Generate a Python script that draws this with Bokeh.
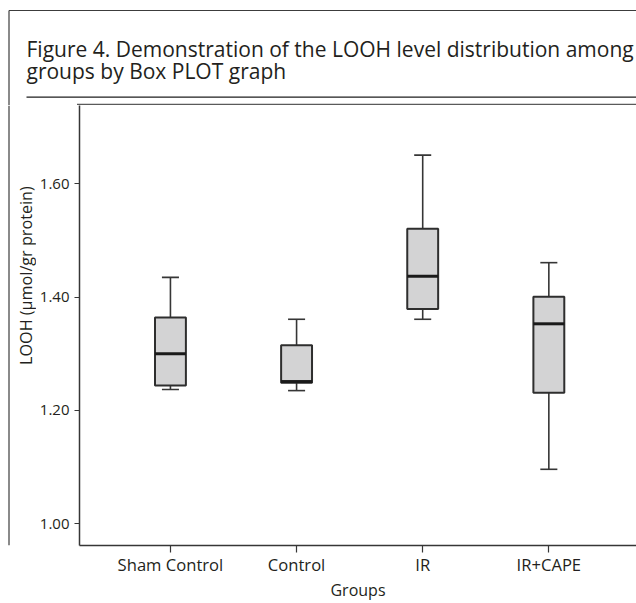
import numpy as np
from bokeh.plotting import figure
from bokeh.layouts import column, row
from bokeh.models import Range1d, FixedTicker, LinearAxis, PrintfTickFormatter
from bokeh.core.properties import value
from bokeh.embed import file_html
from bokeh.resources import INLINE

# ---- data ----
groups = ["Sham Control", "Control", "IR", "IR+CAPE"]
whisker_low = [1.237, 1.235, 1.361, 1.096]
q1 = [1.244, 1.249, 1.379, 1.231]
median = [1.300, 1.251, 1.437, 1.353]
q3 = [1.364, 1.315, 1.521, 1.401]
whisker_high = [1.435, 1.361, 1.651, 1.461]
y_ticks = [1.00, 1.20, 1.40, 1.60]

title_lines = ["Figure 4. Demonstration of the LOOH level distribution among",
               "groups by Box PLOT graph"]
x_title = "Groups"
y_title = "LOOH (µmol/gr protein)"

# ---- layout constants (pixels) ----
W, H = 636, 603
HEAD_H = 105          # header band: title, rules
STRIP_W = 36          # left band: outer frame line + y title
PLOT_W = W - STRIP_W
PLOT_H = H - HEAD_H
FONT = "Open Sans"
TXT = "#231f20"
AX = "#363636"


def blank(width, height, xr, yr):
    f = figure(width=width, height=height, output_backend="svg", toolbar_location=None,
               x_range=Range1d(*xr), y_range=Range1d(*yr),
               x_axis_location=None, y_axis_location=None,
               min_border=0, min_border_left=0, min_border_right=0,
               min_border_top=0, min_border_bottom=0)
    f.outline_line_color = None
    f.grid.visible = False
    f.background_fill_color = "white"
    f.border_fill_color = "white"
    return f


# ---- header (pixel coordinates, y downward) ----
head = blank(W, HEAD_H, (0, W), (HEAD_H, 0))
head.segment(x0=[8.5, 8.5], y0=[10, 10], x1=[W, 8.5], y1=[10, HEAD_H],
             line_color="#3c3c3c", line_width=1.2)
head.segment(x0=[26], y0=[96.7], x1=[W], y1=[96.7], line_color="#1e1e1e", line_width=1.3)
head.segment(x0=[76.5], y0=[104.2], x1=[W], y1=[104.2], line_color="#5a5a5a", line_width=1.8)
head.text(x=[26, 26], y=[48, 70.5], text=title_lines, text_font=value(FONT),
          text_font_size="21px", text_color=TXT, text_align="left",
          text_baseline="alphabetic")

# ---- left strip ----
strip = blank(STRIP_W, H - HEAD_H, (0, STRIP_W), (H - HEAD_H, 0))
strip.segment(x0=[8.5], y0=[0], x1=[8.5], y1=[H - HEAD_H], line_color="#3c3c3c",
              line_width=1.2)
strip.text(x=[25], y=[297.5 - HEAD_H], text=[y_title], angle=np.pi / 2,
           text_font=value(FONT), text_font_size="16.2px", text_color=TXT,
           text_align="center", text_baseline="middle")

# ---- box plot ----
pos = np.arange(len(groups)).astype(float)
box_w = 0.245
cap_w = 0.135

p = figure(width=PLOT_W, height=PLOT_H, output_backend="svg", toolbar_location=None,
           x_range=Range1d(-0.721, 3.695), y_range=Range1d(0.9614, 1.7386),
           min_border_left=41, min_border_right=0, min_border_top=0,
           min_border_bottom=55, x_axis_location=None, y_axis_location=None)
p.outline_line_color = None
p.grid.visible = False
p.background_fill_color = "white"
p.border_fill_color = "white"

xaxis = LinearAxis(ticker=FixedTicker(ticks=list(pos)),
                   major_label_overrides={float(i): g for i, g in zip(pos, groups)},
                   axis_label=x_title)
yaxis = LinearAxis(ticker=FixedTicker(ticks=y_ticks),
                   formatter=PrintfTickFormatter(format="%.2f"))
for ax, tick_out in ((xaxis, 7), (yaxis, 5)):
    ax.axis_line_color = AX
    ax.axis_line_width = 1.5
    ax.major_tick_line_color = AX
    ax.major_tick_line_width = 1.2
    ax.major_tick_in = 0
    ax.major_tick_out = tick_out
    ax.minor_tick_line_color = None
    ax.major_label_text_font = FONT
    ax.major_label_text_color = TXT
xaxis.major_label_text_font_size = "16.6px"
yaxis.major_label_text_font_size = "15px"
xaxis.major_label_standoff = 0
yaxis.major_label_standoff = 5
xaxis.axis_label_text_font = FONT
xaxis.axis_label_text_font_size = "16px"
xaxis.axis_label_text_font_style = "normal"
xaxis.axis_label_text_color = TXT
xaxis.axis_label_standoff = 0
p.add_layout(xaxis, "below")
p.add_layout(yaxis, "left")

p.segment(x0=pos, x1=pos, y0=q3, y1=whisker_high, line_color=AX, line_width=1.6)
p.segment(x0=pos, x1=pos, y0=whisker_low, y1=q1, line_color=AX, line_width=1.6)
p.segment(x0=pos - cap_w / 2, x1=pos + cap_w / 2, y0=whisker_high, y1=whisker_high,
          line_color=AX, line_width=1.6)
p.segment(x0=pos - cap_w / 2, x1=pos + cap_w / 2, y0=whisker_low, y1=whisker_low,
          line_color=AX, line_width=1.6)
p.vbar(x=pos, width=box_w, bottom=q1, top=q3, fill_color="#d3d3d4",
       line_color="#2e2e2e", line_width=2)
p.segment(x0=pos - box_w / 2, x1=pos + box_w / 2, y0=median, y1=median,
          line_color="#1a1a1a", line_width=3)

layout = column(head, row(strip, p, spacing=0), spacing=0)
open("out.html", "w").write(file_html(layout, INLINE))
